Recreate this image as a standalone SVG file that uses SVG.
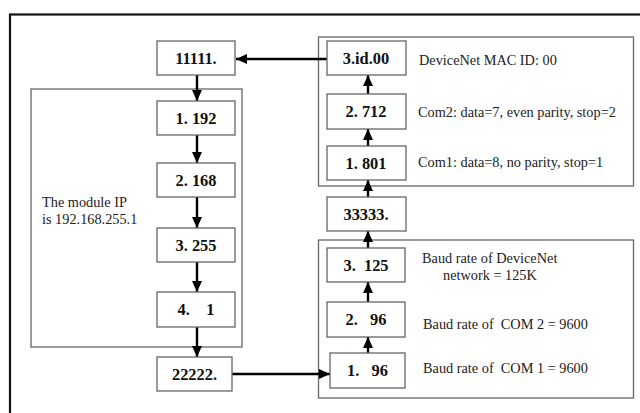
<svg xmlns="http://www.w3.org/2000/svg" width="640" height="413" viewBox="0 0 640 413">
<style>
.frame{fill:none;stroke:#111;stroke-width:2.2}
.grp{fill:none;stroke:#666;stroke-width:1.3}
.box{fill:#fff;stroke:#666;stroke-width:1.3}
.lbl{font-family:"Liberation Serif","Times New Roman",serif;font-weight:bold;font-size:16.4px;fill:#111;text-anchor:middle;white-space:pre}
.txt{font-family:"Liberation Serif","Times New Roman",serif;font-size:14.3px;fill:#222;white-space:pre}
.arr{fill:none;stroke:#000;stroke-width:2.4}
</style>
<defs>
<marker id="ah" markerUnits="userSpaceOnUse" markerWidth="12" markerHeight="12" refX="11" refY="6" orient="auto">
<path d="M0,1 L11,6 L0,11 Z" fill="#000"/>
</marker>
</defs>
<rect width="640" height="413" fill="#fff"/>
<rect class="frame" x="10" y="14.5" width="640" height="410"/>
<g id="group-ip">
<rect class="grp" x="31" y="89" width="211" height="258"/>
<text class="txt" x="42" y="207">The module IP</text>
<text class="txt" x="42" y="224">is 192.168.255.1</text>
</g>
<g id="group-com">
<rect class="grp" x="318.5" y="37" width="315" height="149"/>
<text class="txt" x="419" y="65">DeviceNet MAC ID: 00</text>
<text class="txt" x="418" y="117">Com2: data=7, even parity, stop=2</text>
<text class="txt" x="418" y="167">Com1: data=8, no parity, stop=1</text>
</g>
<g id="group-baud">
<rect class="grp" x="318.5" y="240" width="315" height="158"/>
<text class="txt" x="422" y="263">Baud rate of DeviceNet</text>
<text class="txt" x="443" y="280">network = 125K</text>
<text class="txt" x="423" y="329">Baud rate of  COM 2 = 9600</text>
<text class="txt" x="423" y="373">Baud rate of  COM 1 = 9600</text>
</g>
<g id="connectors">
<line class="arr" x1="327" y1="59" x2="236" y2="59" marker-end="url(#ah)"/>
<line class="arr" x1="197" y1="75" x2="197" y2="101" marker-end="url(#ah)"/>
<line class="arr" x1="197" y1="135" x2="197" y2="163" marker-end="url(#ah)"/>
<line class="arr" x1="197" y1="197" x2="197" y2="228" marker-end="url(#ah)"/>
<line class="arr" x1="197" y1="262" x2="197" y2="292" marker-end="url(#ah)"/>
<line class="arr" x1="197" y1="327" x2="197" y2="357" marker-end="url(#ah)"/>
<line class="arr" x1="232" y1="374" x2="330" y2="374" marker-end="url(#ah)"/>
<line class="arr" x1="368" y1="353" x2="368" y2="337" marker-end="url(#ah)"/>
<line class="arr" x1="368" y1="302" x2="368" y2="282" marker-end="url(#ah)"/>
<line class="arr" x1="368" y1="248" x2="368" y2="231" marker-end="url(#ah)"/>
<line class="arr" x1="368" y1="197" x2="368" y2="180" marker-end="url(#ah)"/>
<line class="arr" x1="368" y1="146" x2="368" y2="129" marker-end="url(#ah)"/>
<line class="arr" x1="368" y1="94" x2="368" y2="75" marker-end="url(#ah)"/>
</g>
<g id="n11111"><rect class="box" x="157" y="41" width="78" height="34"/><text class="lbl" x="196" y="64">11111.</text></g>
<g id="n1-192"><rect class="box" x="157" y="101" width="78" height="34"/><text class="lbl" x="196" y="124">1. 192</text></g>
<g id="n2-168"><rect class="box" x="157" y="163" width="78" height="34"/><text class="lbl" x="196" y="186">2. 168</text></g>
<g id="n3-255"><rect class="box" x="157" y="228" width="78" height="34"/><text class="lbl" x="196" y="251">3. 255</text></g>
<g id="n4-1"><rect class="box" x="157" y="292" width="78" height="35"/><text class="lbl" x="196" y="315">4.    1</text></g>
<g id="n22222"><rect class="box" x="157" y="357" width="75" height="34"/><text class="lbl" x="194.5" y="380">22222.</text></g>
<g id="n3-id-00"><rect class="box" x="327" y="41" width="79" height="34"/><text class="lbl" x="366" y="64">3.id.00</text></g>
<g id="n2-712"><rect class="box" x="327" y="94" width="79" height="35"/><text class="lbl" x="366" y="117">2. 712</text></g>
<g id="n1-801"><rect class="box" x="327" y="146" width="79" height="34"/><text class="lbl" x="366" y="169">1. 801</text></g>
<g id="n33333"><rect class="box" x="327" y="197" width="79" height="34"/><text class="lbl" x="366" y="220">33333.</text></g>
<g id="n3-125"><rect class="box" x="327" y="248" width="78" height="34"/><text class="lbl" x="366" y="271">3.  125</text></g>
<g id="n2-96"><rect class="box" x="327" y="302" width="78" height="35"/><text class="lbl" x="366" y="325">2.   96</text></g>
<g id="n1-96"><rect class="box" x="330" y="353" width="75" height="35"/><text class="lbl" x="367.5" y="376">1.   96</text></g>
</svg>
